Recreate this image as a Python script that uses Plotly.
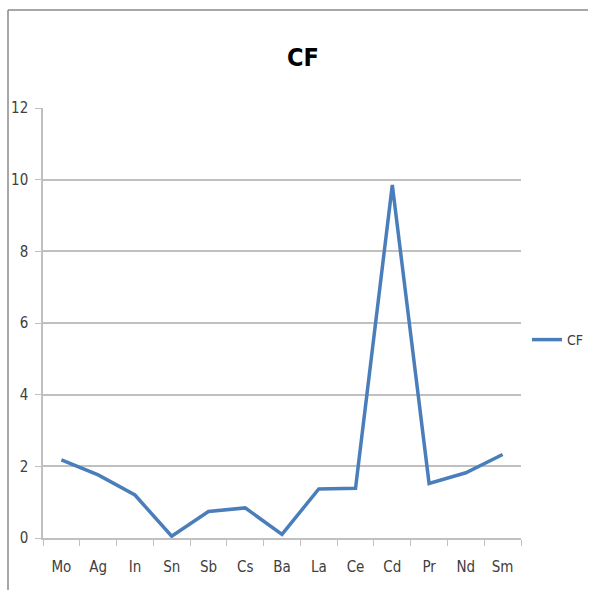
import plotly.graph_objects as go

categories = ["Mo", "Ag", "In", "Sn", "Sb", "Cs", "Ba", "La", "Ce", "Cd", "Pr", "Nd", "Sm"]
cf_values = [2.18, 1.76, 1.2, 0.05, 0.74, 0.84, 0.1, 1.37, 1.39, 9.85, 1.52, 1.82, 2.33]
y_ticks = [0, 2, 4, 6, 8, 10, 12]

W, H = 589, 590
L, R, T, B = 43, 68, 108, 52
PW, PH = W - L - R, H - T - B

fig = go.Figure()
fig.add_trace(go.Scatter(
    x=categories, y=cf_values, mode="lines", name="CF",
    line=dict(color="#4a7ebb", width=3.5),
))

font_family = "DejaVu Sans Condensed, Liberation Sans Narrow, sans-serif"

fig.update_layout(
    width=W, height=H,
    margin=dict(l=L, r=R, t=T, b=B, autoexpand=False),
    paper_bgcolor="white", plot_bgcolor="white",
    font=dict(family=font_family, size=14, color="#404040"),
    title=dict(text="<b>CF</b>", x=303 / W, xanchor="center",
               y=1 - 57 / H, yanchor="middle",
               font=dict(size=25, color="black", family=font_family)),
    showlegend=True,
    legend=dict(x=(527 - L) / PW, xanchor="left", y=(H - B - 340) / PH, yanchor="middle",
                xref="paper", yref="paper", itemwidth=30,
                font=dict(size=14, color="#404040"), bgcolor="rgba(0,0,0,0)"),
    xaxis=dict(type="category", tickson="boundaries", showgrid=False,
               ticks="outside", ticklen=6, tickcolor="#c0c0c0",
               showline=True, linecolor="#c0c0c0", linewidth=1.5,
               range=[-0.5, 12.5], tickfont=dict(size=15), ticklabelstandoff=14),
    yaxis=dict(range=[0, 12], tickvals=y_ticks, showgrid=True, gridcolor="#c0c0c0",
               gridwidth=1.5, zeroline=False, ticks="outside", ticklen=6,
               tickcolor="#c0c0c0", showline=True, linecolor="#c0c0c0", linewidth=1.5,
               tickfont=dict(size=15), ticklabelstandoff=4),
)

# outer chart frame (top and left edges)
fig.add_shape(type="line", xref="paper", yref="paper",
              x0=(8 - L) / PW, x1=(W - 1 - L) / PW,
              y0=(H - B - 10) / PH, y1=(H - B - 10) / PH,
              line=dict(color="#8a8a8a", width=1.5))
fig.add_shape(type="line", xref="paper", yref="paper",
              x0=(8 - L) / PW, x1=(8 - L) / PW,
              y0=(H - B - 10) / PH, y1=-B / PH,
              line=dict(color="#8a8a8a", width=1.5))

fig.write_html("out.html", config={"displayModeBar": False})
